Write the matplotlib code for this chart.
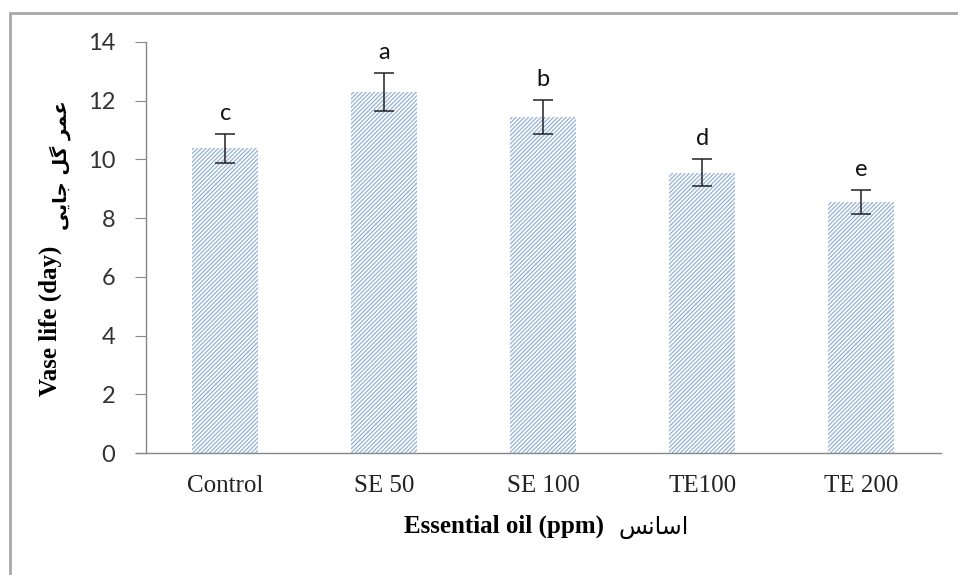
import matplotlib.pyplot as plt
from matplotlib.patches import Rectangle

plt.rcParams['hatch.linewidth'] = 0.9

# data
treatments = ['Control', 'SE 50', 'SE 100', 'TE100', 'TE 200']
vase_life = [10.38, 12.3, 11.45, 9.55, 8.55]
err = [0.5, 0.64, 0.58, 0.45, 0.42]
letters = ['c', 'a', 'b', 'd', 'e']
yticks = [0, 2, 4, 6, 8, 10, 12, 14]

# Persian text (presentation forms, visual order)
fa_ylabel = '\uFBFD\uFBFE\uFE8E\uFE9F \uFEDE\uFB94 \uFEAE\uFEE4\uFECB'
fa_xlabel = '\uFEB2\uFEE7\uFE8E\uFEB3\uFE8D'

W, H = 958, 575
fig = plt.figure(figsize=(W / 100, H / 100), dpi=100)
ax = fig.add_axes([0.152, 0.212, 0.830, 0.715])

# outer frame of the pasted chart
fig.patches.append(Rectangle((10 / W, -0.1), 1.2, 1 - 13 / H + 0.1,
                             transform=fig.transFigure, fill=False,
                             edgecolor='#a8a8a8', linewidth=2))

x = range(len(treatments))
ax.bar(x, vase_life, width=0.415, color='white', edgecolor='#94b2d6',
       hatch='////////', linewidth=0, zorder=2)
ax.errorbar(x, vase_life, yerr=err, fmt='none', ecolor='#222222',
            elinewidth=1.1, capsize=7, capthick=1.1, zorder=3)

for i, (v, e, l) in enumerate(zip(vase_life, err, letters)):
    ax.text(i, v + e + 0.7, l, ha='center', va='center', fontsize=17,
            family='Lato', color='#111111')

ax.set_xlim(-0.5, 4.5)
ax.set_ylim(0, 14)
ax.set_yticks(yticks)
ax.set_xticks(list(x))
ax.set_xticklabels(treatments, family='Liberation Serif', fontsize=18,
                   color='#222222')
ax.tick_params(axis='x', length=0, pad=16)
ax.tick_params(axis='y', labelsize=17, length=8, color='#888888', pad=14,
               labelcolor='#333333')
for lab in ax.get_yticklabels():
    lab.set_family('Lato')

for s in ['top', 'right']:
    ax.spines[s].set_visible(False)
for s in ['left', 'bottom']:
    ax.spines[s].set_color('#888888')
    ax.spines[s].set_linewidth(1)
ax.spines['bottom'].set_bounds(-0.56, 4.5)

# axis titles: English part + Persian part
fig.text(604 / W, 1 - 526 / H, 'Essential oil (ppm)', ha='right', va='center',
         fontsize=18, fontweight='bold', family='Liberation Serif')
fig.text(618 / W, 1 - 527 / H, fa_xlabel, ha='left', va='center',
         fontsize=17, family='DejaVu Sans')
fig.text(50 / W, 1 - 396 / H, 'Vase life (day)', ha='center', va='bottom',
         rotation=90, fontsize=18, fontweight='bold', family='Liberation Serif')
fig.text(60 / W, 1 - 230 / H, fa_ylabel, ha='center', va='bottom',
         rotation=90, fontsize=14, fontweight='bold', family='DejaVu Sans')

fig.savefig('out.png', dpi=100)
